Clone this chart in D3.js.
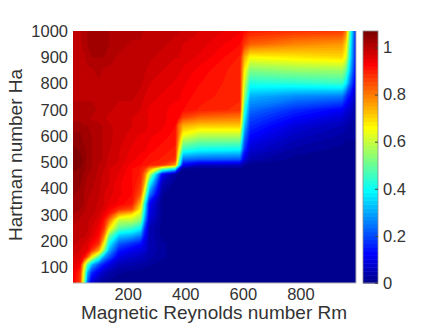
<!DOCTYPE html>
<html>
<head>
<meta charset="utf-8">
<script src="https://cdn.jsdelivr.net/npm/d3@7"></script>
<style>
  body { margin: 0; background: #fff; }
  text { font-family: "Liberation Sans", Arial, sans-serif; fill: #333; }
</style>
</head>
<body>
<svg id="chart" width="436" height="331"></svg>
<script>
// grid the field was read on, denser around the steps
var rmGrid = [10, 35, 48, 60, 75, 100, 118, 135, 170, 215, 245, 258, 275, 320, 365, 377, 392, 450, 590, 605, 625, 780, 945, 958, 975, 993];
var haGrid = [1000, 950, 900, 850, 800, 750, 700, 670, 640, 600, 550, 510, 490, 475, 455, 420, 380, 340, 320, 300, 280, 250, 220, 190, 165, 140, 110, 80, 40];

// one row per haGrid entry, one value per rmGrid entry
var fieldRows = [
  [1.00,1.00,1.01,1.02,1.02,1.02,1.02,1.02,1.01,1.01,1.01,1.00,1.00,1.00,.99,.99,.98,.97,.94,.92,.90,.88,.87,.80,.42,.13],
  [1.00,1.00,1.01,1.02,1.02,1.02,1.02,1.02,1.01,1.00,1.00,1.00,1.00,.99,.98,.98,.97,.96,.92,.87,.83,.79,.77,.70,.38,.12],
  [1.00,1.00,1.00,1.01,1.02,1.02,1.02,1.01,1.00,1.00,1.00,.99,.99,.98,.97,.97,.96,.95,.90,.75,.66,.68,.70,.64,.35,.12],
  [1.00,1.00,1.00,1.00,1.00,1.01,1.00,1.00,1.00,1.00,.99,.99,.98,.97,.96,.96,.95,.93,.89,.68,.53,.55,.56,.50,.30,.11],
  [1.00,1.00,1.00,1.00,1.00,1.00,1.00,1.00,1.00,.99,.99,.98,.97,.96,.95,.94,.94,.92,.89,.62,.42,.43,.45,.38,.22,.09],
  [1.00,1.00,1.00,1.00,1.00,1.00,1.00,1.00,.99,.99,.98,.97,.96,.95,.94,.94,.93,.91,.89,.56,.31,.27,.25,.18,.12,.05],
  [1.01,1.01,1.01,1.01,1.01,1.00,.99,.99,.98,.98,.97,.96,.95,.94,.93,.93,.92,.90,.88,.45,.24,.17,.12,.09,.07,.03],
  [1.01,1.01,1.01,1.01,1.00,.99,.99,.98,.98,.97,.96,.96,.95,.94,.93,.92,.86,.82,.80,.40,.20,.13,.08,.06,.05,.03],
  [1.03,1.03,1.02,1.02,1.01,1.01,1.00,.99,.98,.97,.96,.96,.95,.94,.92,.82,.75,.72,.72,.34,.17,.09,.05,.04,.03,.02],
  [1.04,1.04,1.03,1.03,1.02,1.01,1.00,.99,.98,.96,.95,.95,.94,.93,.91,.80,.64,.58,.58,.26,.13,.06,.03,.02,.02,.02],
  [1.06,1.05,1.04,1.03,1.02,1.01,1.00,.99,.97,.95,.94,.94,.93,.91,.90,.70,.45,.41,.40,.18,.08,.03,.01,.01,.01,.01],
  [1.07,1.06,1.05,1.03,1.02,1.01,1.00,.98,.97,.94,.93,.92,.91,.90,.88,.55,.24,.22,.21,.09,.04,.01,0,0,0,0],
  [1.07,1.06,1.04,1.03,1.02,1.00,.99,.98,.96,.93,.92,.91,.90,.88,.78,.45,.12,.06,.06,.03,.01,0,0,0,0,0],
  [1.06,1.05,1.04,1.03,1.02,1.00,.99,.97,.96,.92,.90,.88,.78,.52,.38,.13,.02,.01,.01,0,0,0,0,0,0,0],
  [1.05,1.05,1.03,1.02,1.01,1.00,.98,.97,.95,.92,.90,.82,.62,.12,.03,.01,0,0,0,0,0,0,0,0,0,0],
  [1.05,1.04,1.03,1.01,1.01,.99,.98,.97,.94,.92,.88,.76,.42,.05,.01,0,0,0,0,0,0,0,0,0,0,0],
  [1.04,1.03,1.02,1.01,1.00,.99,.97,.96,.94,.92,.84,.62,.27,.02,0,0,0,0,0,0,0,0,0,0,0,0],
  [1.03,1.03,1.02,1.00,1.00,.98,.97,.95,.93,.90,.72,.43,.12,.01,0,0,0,0,0,0,0,0,0,0,0,0],
  [1.03,1.02,1.01,1.00,1.00,.98,.96,.93,.88,.84,.66,.40,.11,.01,0,0,0,0,0,0,0,0,0,0,0,0],
  [1.02,1.01,1.00,1.00,.99,.97,.94,.90,.74,.68,.60,.35,.10,.01,0,0,0,0,0,0,0,0,0,0,0,0],
  [1.01,1.00,1.00,.99,.98,.96,.91,.82,.60,.60,.54,.30,.08,.01,0,0,0,0,0,0,0,0,0,0,0,0],
  [1.00,1.00,.99,.99,.97,.94,.88,.70,.50,.46,.40,.20,.05,.01,0,0,0,0,0,0,0,0,0,0,0,0],
  [1.00,.99,.99,.98,.96,.92,.80,.52,.34,.31,.26,.14,.05,.01,0,0,0,0,0,0,0,0,0,0,0,0],
  [.99,.98,.97,.96,.93,.88,.66,.40,.22,.17,.14,.10,.05,.02,.01,0,0,0,0,0,0,0,0,0,0,0],
  [.98,.97,.96,.95,.88,.76,.54,.32,.15,.11,.09,.08,.05,.02,.01,0,0,0,0,0,0,0,0,0,0,0],
  [.97,.96,.93,.85,.68,.48,.30,.22,.10,.07,.06,.05,.04,.02,.01,0,0,0,0,0,0,0,0,0,0,0],
  [.96,.93,.70,.48,.32,.20,.14,.10,.05,.04,.03,.03,.02,.01,0,0,0,0,0,0,0,0,0,0,0,0],
  [.95,.88,.62,.32,.17,.10,.06,.04,.02,.01,.01,0,0,0,0,0,0,0,0,0,0,0,0,0,0,0],
  [.94,.86,.55,.22,.08,.03,.02,.01,0,0,0,0,0,0,0,0,0,0,0,0,0,0,0,0,0,0]
];

var rmTicks = [200, 400, 600, 800];
var haTicks = [100, 200, 300, 400, 500, 600, 700, 800, 900, 1000];
var barTicks = [0, 0.2, 0.4, 0.6, 0.8, 1];

var colorMax = 1.07;
var LEVELS = 64;

// jet, same 64 steps matlab uses
var jet = d3.scaleLinear()
  .domain([0, 7, 23, 39, 55, 63])
  .range(['#00008f', '#0000ff', '#00ffff', '#ffff00', '#ff0000', '#800000']);

var svg = d3.select('#chart');

var x = d3.scaleLinear().domain([10, 993]).range([73, 356]);
var y = d3.scaleLinear().domain([40, 1000]).range([283, 31]);
var barY = d3.scaleLinear().domain([0, colorMax]).range([283, 31]);

// contour coordinates are index + 0.5, map them back to data space
var nx = rmGrid.length, ny = haGrid.length;
var gridX = d3.scaleLinear().domain(d3.range(nx).map(function (i) { return i + 0.5; }))
  .range(rmGrid.map(function (d) { return x(d); })).clamp(true);
var gridY = d3.scaleLinear().domain(d3.range(ny).map(function (i) { return i + 0.5; }))
  .range(haGrid.map(function (d) { return y(d); })).clamp(true);

var levels = d3.range(LEVELS).map(function (k) { return k * colorMax / LEVELS; });

var contours = d3.contours().size([nx, ny]).thresholds(levels)(d3.merge(fieldRows));

var path = d3.geoPath(d3.geoTransform({
  point: function (px, py) {
    this.stream.point(gridX(px), gridY(py));
  }
}));

// filled bands, lowest first so the upper ones paint over
svg.append('g').selectAll('path')
  .data(contours)
  .enter().append('path')
  .attr('d', path)
  .attr('fill', function (d, i) { return jet(i); });

// thin grey frame only shows on bottom and right
svg.append('path')
  .attr('d', 'M' + x.range()[0] + ',' + y.range()[0] + 'H' + x.range()[1] + 'V' + y.range()[1])
  .attr('fill', 'none')
  .attr('stroke', '#b4b4b4')
  .attr('stroke-width', 1);

// colorbar
var barLeft = 363, barRight = 378;
svg.append('g').selectAll('rect')
  .data(levels)
  .enter().append('rect')
  .attr('x', barLeft)
  .attr('width', barRight - barLeft)
  .attr('y', function (d) { return barY(d + colorMax / LEVELS); })
  .attr('height', colorMax / LEVELS * (barY(0) - barY(1)) + 0.5)
  .attr('fill', function (d, i) { return jet(i); });

svg.append('rect')
  .attr('x', barLeft)
  .attr('y', 31)
  .attr('width', barRight - barLeft)
  .attr('height', 252)
  .attr('fill', 'none')
  .attr('stroke', '#8c8c8c')
  .attr('stroke-width', 0.8);

var barAxis = svg.append('g')
  .attr('transform', 'translate(' + barRight + ',0)')
  .call(d3.axisRight(barY).tickValues(barTicks).tickFormat(d3.format('~g')).tickSize(-3).tickPadding(5));
barAxis.select('.domain').remove();
barAxis.selectAll('line').attr('stroke', '#444');
barAxis.selectAll('text').attr('font-size', 16.5).attr('x', 5);

// heatmap axes, labels only
var xAxis = svg.append('g')
  .attr('transform', 'translate(0,283)')
  .call(d3.axisBottom(x).tickValues(rmTicks).tickFormat(d3.format('d')).tickSize(0).tickPadding(5));
var yAxis = svg.append('g')
  .attr('transform', 'translate(73,0)')
  .call(d3.axisLeft(y).tickValues(haTicks).tickFormat(d3.format('d')).tickSize(0).tickPadding(5));

[xAxis, yAxis].forEach(function (axis) {
  axis.select('.domain').remove();
  axis.selectAll('text').attr('font-size', 16.5);
});

svg.append('text')
  .attr('x', 214)
  .attr('y', 319)
  .attr('text-anchor', 'middle')
  .attr('font-size', 19)
  .text('Magnetic Reynolds number Rm');

svg.append('text')
  .attr('transform', 'translate(22,155) rotate(-90)')
  .attr('text-anchor', 'middle')
  .attr('font-size', 19)
  .text('Hartman number Ha');
</script>
</body>
</html>
